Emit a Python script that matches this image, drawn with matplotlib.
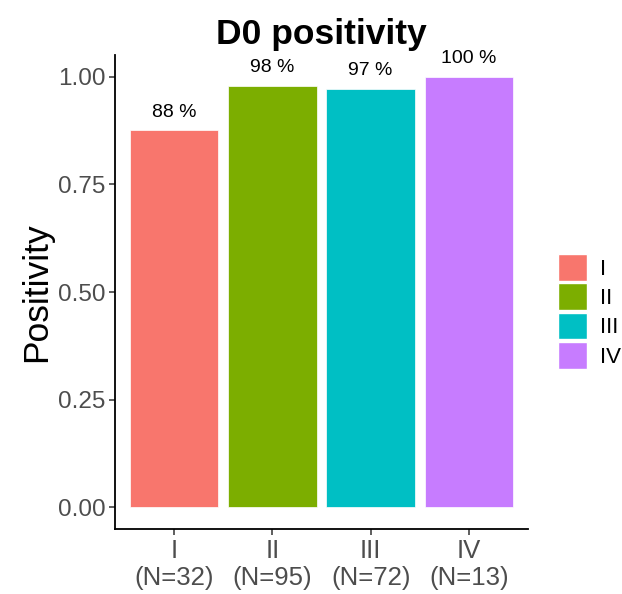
import matplotlib
matplotlib.use("Agg")
import matplotlib.pyplot as plt
import numpy as np
from matplotlib.patches import Patch

# ── Data ───────────────────────────────────────────────────────────────────
stages = ["I", "II", "III", "IV"]
n_total = [32, 95, 72, 13]
positivity = [0.875, 0.979, 0.972, 1.0]
pct_labels = ["88 %", "98 %", "97 %", "100 %"]
colors = ["#F8766D", "#7CAE00", "#00BFC4", "#C77CFF"]

plt.rcParams["font.family"] = ["Liberation Sans", "DejaVu Sans"]

fig = plt.figure(figsize=(6.22, 5.94), dpi=100)
ax = fig.add_axes([0.1849, 0.1094, 0.6640, 0.7980])

x = np.arange(1, len(stages) + 1)
bars = ax.bar(x, positivity, width=0.9, color=colors, edgecolor="white", linewidth=0.5)

for xi, yi, lab in zip(x, positivity, pct_labels):
    ax.annotate(lab, (xi, yi), xytext=(0, 10), textcoords="offset points",
                ha="center", va="baseline", fontsize=14, color="black")

ax.set_xlim(0.4, 4.6)
ax.set_ylim(-0.05, 1.05)
ax.set_yticks([0, 0.25, 0.5, 0.75, 1.0])
ax.set_yticklabels(["0.00", "0.25", "0.50", "0.75", "1.00"])
ax.set_xticks(x)
ax.set_xticklabels([f"{s}\n(N={n})" for s, n in zip(stages, n_total)], linespacing=1.15)
ax.tick_params(axis="both", labelcolor="#4D4D4D", color="#333333",
               length=4, width=1.1, pad=3)
ax.tick_params(axis="y", labelsize=17.5)
ax.tick_params(axis="x", labelsize=18.5)

ax.set_ylabel("Positivity", fontsize=25.5, labelpad=3)
ax.set_title("D0 positivity", fontsize=25.5, fontweight="bold", pad=8)

for side in ["top", "right"]:
    ax.spines[side].set_visible(False)
for side in ["left", "bottom"]:
    ax.spines[side].set_linewidth(1.3)

handles = [Patch(facecolor=c, edgecolor="white", linewidth=1) for c in colors]
fig.legend(handles, stages, loc="center left", bbox_to_anchor=(0.897, 0.476),
           frameon=False, fontsize=16, handlelength=1.3, handleheight=1.47,
           labelspacing=0.12, handletextpad=0.6, borderpad=0, borderaxespad=0)

fig.savefig("out.png", dpi=100)
